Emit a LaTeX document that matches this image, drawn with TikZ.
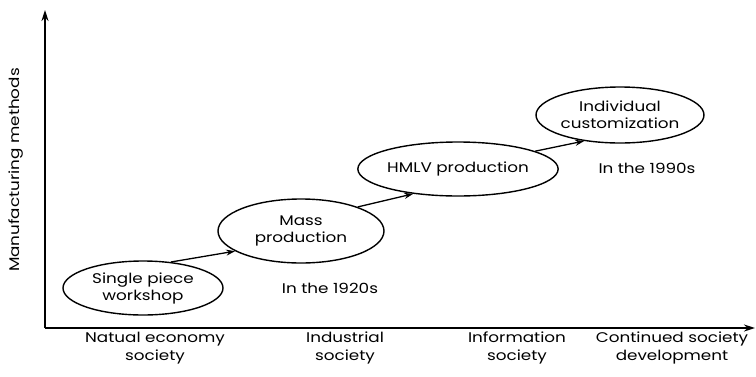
\documentclass[tikz,border=0pt]{standalone}
\usepackage{fontspec}
\setmainfont{Poppins}[FakeStretch=1.2]
\usetikzlibrary{shapes.geometric,arrows.meta}
\begin{document}
\begin{tikzpicture}[x=1pt,y=-1pt,
  stage/.style={ellipse,draw,line width=1.4pt,inner sep=0pt,align=center,font=\fontsize{14}{17}\selectfont},
  lbl/.style={align=center,font=\fontsize{14}{17.5}\selectfont},
  conn/.style={line width=1.3pt,-{Stealth[length=9pt,width=6pt]}},
  axis/.style={line width=1.8pt,-{Stealth[length=11pt,width=7pt]}}]
\useasboundingbox (0,0) rectangle (756,376);
\coordinate (o) at (45,328);
\coordinate (ytop) at (45,10);
\coordinate (xend) at (755,328);
\draw[axis] (o) -- (ytop);
\draw[axis] (o) -- (xend);
\node[lbl,rotate=90] (ylab) at (16,170) {Manufacturing methods};
\node[stage,minimum width=160pt,minimum height=54pt] (e1) at (143,288) {Single piece\\workshop};
\node[stage,minimum width=166pt,minimum height=64pt] (e2) at (301,231) {Mass\\production};
\node[stage,minimum width=160pt,minimum height=54pt] (e3) at (458,169) {HMLV production};
\node[stage,minimum width=164pt,minimum height=56pt] (e4) at (620,115) {Individual\\customization};
\draw[conn] (e1.43) -- (e2.197);
\draw[conn] (e2.23) -- (e3.209);
\draw[conn] (e3.13) -- (e4.216);
\node[lbl] (t1) at (330,288) {In the 1920s};
\node[lbl] (t2) at (647,168) {In the 1990s};
\node[lbl] (x1) at (155,348) {Natual economy\\society};
\node[lbl] (x2) at (345,348) {Industrial\\society};
\node[lbl] (x3) at (517,348) {Information\\society};
\node[lbl] (x4) at (672,348) {Continued society\\development};
\end{tikzpicture}
\end{document}
